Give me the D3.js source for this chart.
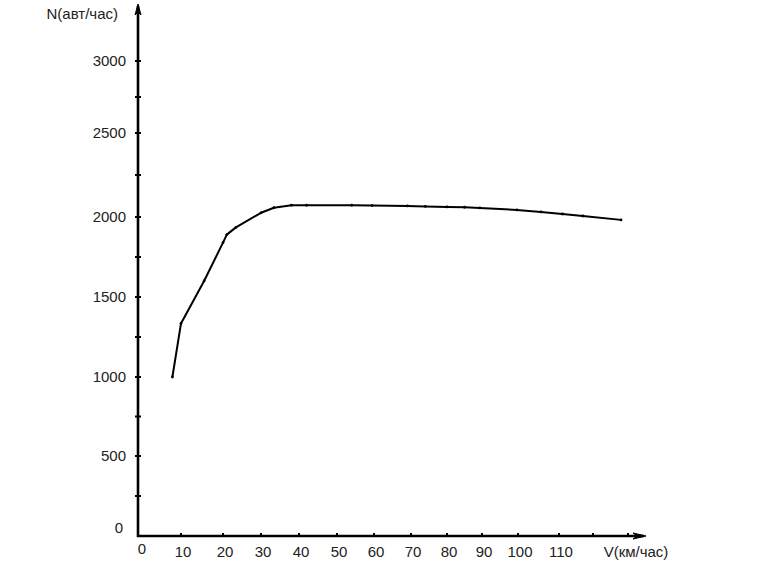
<!DOCTYPE html>
<html><head><meta charset="utf-8">
<script src="https://cdn.jsdelivr.net/npm/d3@7"></script>
<style>
body{margin:0;background:#fff}
text{font-family:"Liberation Sans",Arial,sans-serif;font-size:15px;fill:#222}
</style>
</head><body>
<svg id="c" width="782" height="564"></svg>
<script>
// Data
const speed = [8, 10, 15.5, 20, 21, 23.4, 30, 33.4, 38, 42, 54, 59.5, 69, 74, 80, 85, 89.4, 99.7, 105.6, 111, 117, 128];
const flow  = [1000, 1335, 1600, 1840, 1890, 1935, 2025, 2055, 2070, 2070, 2070, 2068, 2066, 2063, 2060, 2058, 2054, 2042, 2030, 2018, 2006, 1982];
const xTickValues = [10, 20, 30, 40, 50, 60, 70, 80, 90, 100, 110, 120, 130];
const xLabelValues = [0, 10, 20, 30, 40, 50, 60, 70, 80, 90, 100, 110];
const yTickValues = [250, 500, 750, 1000, 1250, 1500, 1750, 2000, 2250, 2500, 2750, 3000];
const yLabelValues = [0, 500, 1000, 1500, 2000, 2500, 3000];
const yTitle = "N(авт/час)";
const xTitle = "V(км/час)";

const svg = d3.select("#c");
svg.append("rect").attr("width", 782).attr("height", 564).attr("fill", "#fff");

// Hand-drawn axes: piecewise linear scales
const x = d3.scaleLinear()
  .domain([0, 10, 20, 30, 40, 50, 60, 70, 80, 90, 100, 110, 120, 130])
  .range([138, 181, 223, 261, 299, 337, 374, 411, 447, 482, 518, 559, 593, 628]);
const y = d3.scaleLinear()
  .domain([0, 500, 1000, 1500, 2000, 2500, 3000])
  .range([536, 456, 377, 297, 217, 133, 61]);

const x0 = x(0), y0 = y(0);

// axes lines
svg.append("line").attr("x1", x0).attr("x2", x0).attr("y1", 6).attr("y2", y0 + 1)
  .attr("stroke", "#000").attr("stroke-width", 2.6);
svg.append("line").attr("x1", x0 - 1).attr("x2", 644).attr("y1", y0).attr("y2", y0)
  .attr("stroke", "#000").attr("stroke-width", 2.6);

// arrow heads
svg.append("path").attr("d", `M${x0},4 L${x0 - 3},15 L${x0},12 L${x0 + 3},15 Z`)
  .attr("fill", "#000").attr("stroke", "#000").attr("stroke-width", 1);
svg.append("path").attr("d", `M646,${y0} L633,${y0 - 3} L637,${y0} L633,${y0 + 3} Z`)
  .attr("fill", "#000").attr("stroke", "#000").attr("stroke-width", 1);

// y ticks
svg.selectAll(".yt").data(yTickValues).join("line")
  .attr("x1", x0 - 3).attr("x2", x0 + 3)
  .attr("y1", d => y(d)).attr("y2", d => y(d))
  .attr("stroke", "#000").attr("stroke-width", 2);
// y labels
svg.selectAll(".yl").data(yLabelValues).join("text")
  .attr("x", d => d === 0 ? 123 : 126)
  .attr("y", d => (d === 0 ? y(d) - 8 : y(d)) + 5)
  .attr("text-anchor", "end")
  .text(d => d);

// x ticks
svg.selectAll(".xt").data(xTickValues).join("line")
  .attr("x1", d => x(d)).attr("x2", d => x(d))
  .attr("y1", y0 - 3).attr("y2", y0)
  .attr("stroke", "#000").attr("stroke-width", 2);
// x labels
svg.selectAll(".xl").data(xLabelValues).join("text")
  .attr("x", d => x(d) + (d === 0 ? 4 : 2))
  .attr("y", d => d === 0 ? 554 : 557)
  .attr("text-anchor", "middle")
  .text(d => d);

// titles
svg.append("text").attr("x", 118).attr("y", 19).attr("text-anchor", "end").text(yTitle);
svg.append("text").attr("x", 636).attr("y", 557).attr("text-anchor", "middle").text(xTitle);

// curve
const pts = speed.map((v, i) => [v, flow[i]]);
svg.append("path").datum(pts)
  .attr("d", d3.line().x(d => x(d[0])).y(d => y(d[1])))
  .attr("fill", "none").attr("stroke", "#000").attr("stroke-width", 2)
  .attr("stroke-linejoin", "round");
svg.selectAll(".pt").data(pts).join("circle")
  .attr("cx", d => x(d[0])).attr("cy", d => y(d[1])).attr("r", 1.4)
  .attr("fill", "#000");
</script>
</body></html>
